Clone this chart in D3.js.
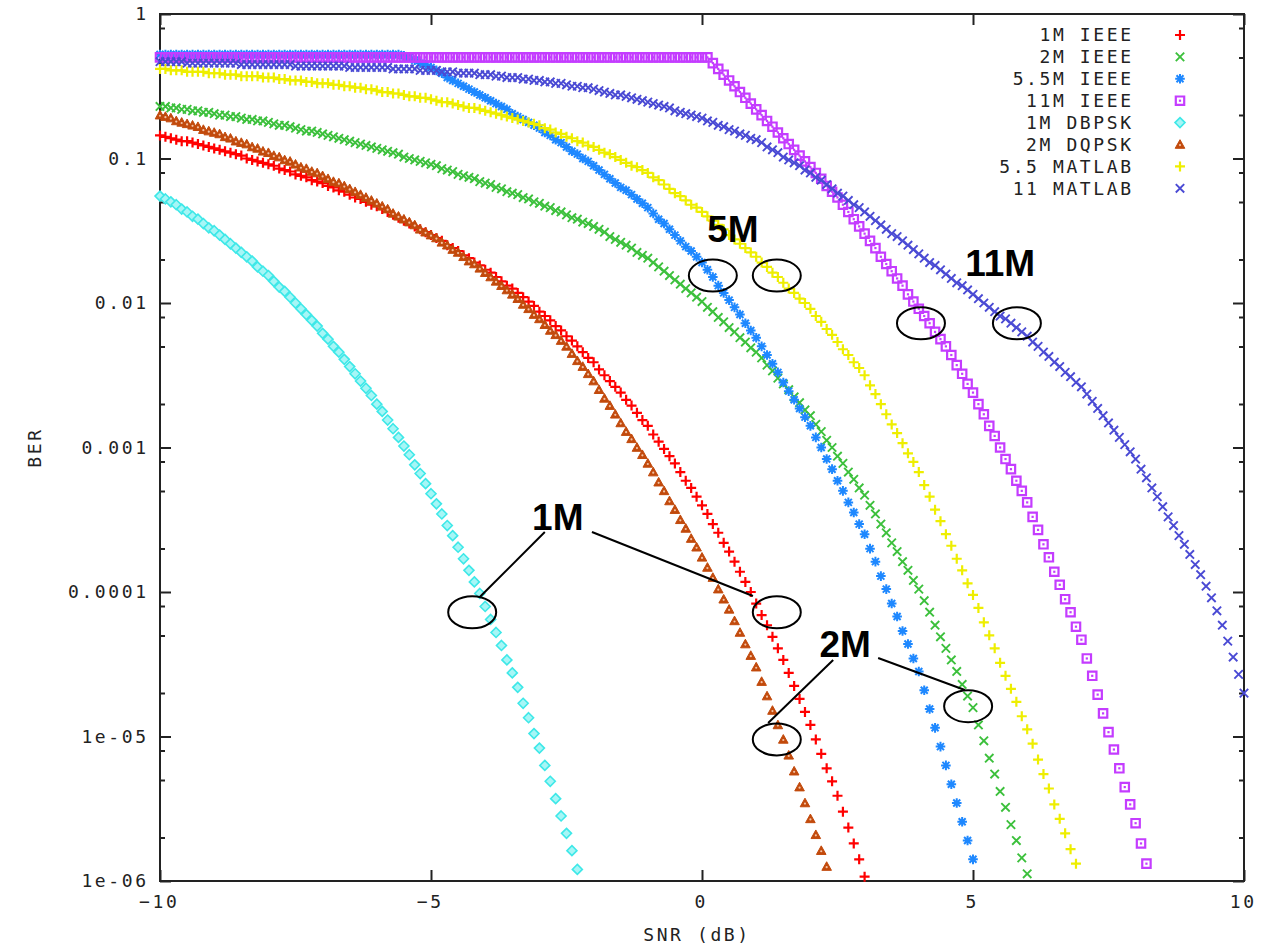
<!DOCTYPE html>
<html>
<head>
<meta charset="utf-8">
<script src="https://cdn.jsdelivr.net/npm/d3@7"></script>
<style>
  body { margin: 0; background: #fff; }
  svg { display: block; }
  .tick-label { font-family: "DejaVu Sans Mono", monospace; font-size: 18px; letter-spacing: 2.6px; fill: #222; }
  .note { font-family: "Liberation Sans", Arial, sans-serif; font-weight: bold; font-size: 37px; fill: #000; }
</style>
</head>
<body>
<svg id="chart" width="1266" height="947"></svg>
<script>
const snrStart = -10;
const snrStep = 0.1;

const logBer1mIeee = [
  -0.84,-0.85,-0.86,-0.87,-0.88,-0.88,-0.89,-0.90,-0.91,-0.92,
  -0.93,-0.94,-0.95,-0.96,-0.97,-0.98,-1.00,-1.01,-1.02,-1.03,
  -1.04,-1.05,-1.07,-1.08,-1.09,-1.11,-1.12,-1.13,-1.15,-1.16,
  -1.17,-1.19,-1.20,-1.22,-1.23,-1.25,-1.27,-1.28,-1.30,-1.32,
  -1.33,-1.35,-1.37,-1.39,-1.41,-1.43,-1.45,-1.47,-1.49,-1.51,
  -1.53,-1.55,-1.57,-1.60,-1.62,-1.64,-1.67,-1.69,-1.72,-1.74,
  -1.77,-1.79,-1.82,-1.85,-1.88,-1.90,-1.93,-1.96,-1.99,-2.02,
  -2.06,-2.09,-2.12,-2.16,-2.19,-2.23,-2.26,-2.30,-2.34,-2.38,
  -2.41,-2.46,-2.50,-2.54,-2.58,-2.62,-2.67,-2.71,-2.76,-2.81,
  -2.85,-2.91,-2.96,-3.01,-3.06,-3.11,-3.17,-3.23,-3.28,-3.34,
  -3.40,-3.46,-3.53,-3.59,-3.66,-3.72,-3.79,-3.86,-3.93,-4.00,
  -4.08,-4.16,-4.23,-4.31,-4.39,-4.47,-4.56,-4.65,-4.74,-4.83,
  -4.92,-5.02,-5.12,-5.22,-5.31,-5.41,-5.52,-5.63,-5.74,-5.85,
  -5.97
];

const logBer2mIeee = [
  -0.64,-0.64,-0.65,-0.65,-0.66,-0.66,-0.67,-0.67,-0.68,-0.68,
  -0.69,-0.70,-0.70,-0.71,-0.71,-0.72,-0.73,-0.73,-0.74,-0.74,
  -0.75,-0.76,-0.77,-0.77,-0.78,-0.79,-0.80,-0.81,-0.81,-0.82,
  -0.83,-0.84,-0.85,-0.86,-0.87,-0.88,-0.89,-0.90,-0.91,-0.92,
  -0.93,-0.94,-0.95,-0.96,-0.97,-0.99,-1.00,-1.01,-1.02,-1.03,
  -1.04,-1.05,-1.07,-1.08,-1.09,-1.11,-1.12,-1.13,-1.14,-1.16,
  -1.17,-1.18,-1.20,-1.21,-1.23,-1.24,-1.25,-1.27,-1.28,-1.30,
  -1.31,-1.33,-1.34,-1.36,-1.37,-1.39,-1.41,-1.42,-1.44,-1.45,
  -1.47,-1.49,-1.51,-1.54,-1.56,-1.58,-1.60,-1.62,-1.65,-1.67,
  -1.69,-1.72,-1.75,-1.78,-1.81,-1.84,-1.87,-1.90,-1.93,-1.96,
  -1.99,-2.03,-2.06,-2.10,-2.13,-2.17,-2.20,-2.24,-2.27,-2.31,
  -2.34,-2.38,-2.43,-2.47,-2.52,-2.56,-2.60,-2.65,-2.69,-2.74,
  -2.78,-2.84,-2.89,-2.95,-3.00,-3.06,-3.11,-3.17,-3.22,-3.28,
  -3.33,-3.40,-3.46,-3.53,-3.59,-3.66,-3.72,-3.79,-3.85,-3.92,
  -3.98,-4.06,-4.14,-4.23,-4.31,-4.39,-4.47,-4.55,-4.64,-4.72,
  -4.80,-4.92,-5.03,-5.15,-5.26,-5.38,-5.49,-5.61,-5.72,-5.84,
  -5.95
];

const logBer55mIeee = [
  -0.28,-0.28,-0.28,-0.28,-0.28,-0.28,-0.28,-0.28,-0.28,-0.28,
  -0.28,-0.28,-0.28,-0.28,-0.28,-0.28,-0.28,-0.28,-0.28,-0.28,
  -0.28,-0.28,-0.28,-0.28,-0.28,-0.28,-0.28,-0.28,-0.28,-0.28,
  -0.28,-0.28,-0.28,-0.28,-0.28,-0.28,-0.28,-0.28,-0.28,-0.28,
  -0.28,-0.28,-0.28,-0.28,-0.28,-0.29,-0.30,-0.32,-0.34,-0.35,
  -0.37,-0.39,-0.41,-0.44,-0.46,-0.48,-0.50,-0.52,-0.54,-0.56,
  -0.58,-0.60,-0.62,-0.64,-0.66,-0.69,-0.71,-0.73,-0.75,-0.77,
  -0.79,-0.82,-0.84,-0.87,-0.89,-0.92,-0.95,-0.97,-1.00,-1.02,
  -1.05,-1.08,-1.11,-1.14,-1.17,-1.20,-1.22,-1.25,-1.28,-1.31,
  -1.34,-1.38,-1.42,-1.45,-1.49,-1.53,-1.57,-1.61,-1.64,-1.68,
  -1.72,-1.77,-1.82,-1.88,-1.93,-1.98,-2.03,-2.08,-2.14,-2.19,
  -2.24,-2.30,-2.36,-2.42,-2.48,-2.55,-2.61,-2.67,-2.73,-2.79,
  -2.85,-2.93,-3.00,-3.08,-3.15,-3.23,-3.30,-3.38,-3.45,-3.53,
  -3.60,-3.70,-3.79,-3.89,-3.98,-4.08,-4.17,-4.27,-4.36,-4.46,
  -4.55,-4.68,-4.81,-4.94,-5.07,-5.20,-5.33,-5.46,-5.59,-5.72,
  -5.85
];

const logBer11mIeee = [
  -0.30,-0.30,-0.30,-0.30,-0.30,-0.30,-0.30,-0.30,-0.30,-0.30,
  -0.30,-0.30,-0.30,-0.30,-0.30,-0.30,-0.30,-0.30,-0.30,-0.30,
  -0.30,-0.30,-0.30,-0.30,-0.30,-0.30,-0.30,-0.30,-0.30,-0.30,
  -0.30,-0.30,-0.30,-0.30,-0.30,-0.30,-0.30,-0.30,-0.30,-0.30,
  -0.30,-0.30,-0.30,-0.30,-0.30,-0.30,-0.30,-0.30,-0.30,-0.30,
  -0.30,-0.30,-0.30,-0.30,-0.30,-0.30,-0.30,-0.30,-0.30,-0.30,
  -0.30,-0.30,-0.30,-0.30,-0.30,-0.30,-0.30,-0.30,-0.30,-0.30,
  -0.30,-0.30,-0.30,-0.30,-0.30,-0.30,-0.30,-0.30,-0.30,-0.30,
  -0.30,-0.30,-0.30,-0.30,-0.30,-0.30,-0.30,-0.30,-0.30,-0.30,
  -0.30,-0.30,-0.30,-0.30,-0.30,-0.30,-0.30,-0.30,-0.30,-0.30,
  -0.30,-0.30,-0.34,-0.38,-0.42,-0.46,-0.50,-0.54,-0.58,-0.62,
  -0.66,-0.70,-0.74,-0.78,-0.82,-0.86,-0.90,-0.94,-0.98,-1.02,
  -1.06,-1.10,-1.14,-1.19,-1.23,-1.27,-1.32,-1.37,-1.42,-1.47,
  -1.52,-1.57,-1.62,-1.68,-1.73,-1.78,-1.83,-1.88,-1.94,-1.99,
  -2.04,-2.09,-2.14,-2.20,-2.25,-2.30,-2.36,-2.43,-2.49,-2.56,
  -2.62,-2.70,-2.77,-2.85,-2.92,-3.00,-3.08,-3.15,-3.23,-3.30,
  -3.38,-3.48,-3.57,-3.67,-3.76,-3.86,-3.95,-4.05,-4.14,-4.24,
  -4.33,-4.46,-4.58,-4.71,-4.84,-4.97,-5.09,-5.22,-5.35,-5.47,
  -5.60,-5.74,-5.88
];

const logBer1mDbpsk = [
  -1.26,-1.28,-1.30,-1.32,-1.35,-1.37,-1.40,-1.42,-1.45,-1.48,
  -1.50,-1.53,-1.56,-1.59,-1.62,-1.65,-1.68,-1.71,-1.75,-1.78,
  -1.81,-1.85,-1.89,-1.92,-1.96,-2.00,-2.04,-2.08,-2.12,-2.16,
  -2.21,-2.25,-2.30,-2.34,-2.39,-2.44,-2.49,-2.54,-2.59,-2.64,
  -2.70,-2.75,-2.81,-2.87,-2.93,-2.99,-3.05,-3.12,-3.18,-3.25,
  -3.32,-3.39,-3.46,-3.54,-3.61,-3.69,-3.77,-3.85,-3.93,-4.01,
  -4.10,-4.19,-4.28,-4.37,-4.47,-4.56,-4.66,-4.77,-4.87,-4.98,
  -5.08,-5.20,-5.31,-5.43,-5.55,-5.67,-5.79,-5.92
];

const logBer2mDqpsk = [
  -0.70,-0.71,-0.72,-0.74,-0.75,-0.76,-0.77,-0.78,-0.80,-0.81,
  -0.82,-0.83,-0.85,-0.86,-0.88,-0.89,-0.90,-0.92,-0.93,-0.95,
  -0.96,-0.98,-0.99,-1.01,-1.02,-1.04,-1.06,-1.07,-1.09,-1.10,
  -1.12,-1.14,-1.16,-1.17,-1.19,-1.21,-1.23,-1.25,-1.27,-1.29,
  -1.31,-1.33,-1.35,-1.38,-1.40,-1.42,-1.44,-1.46,-1.49,-1.51,
  -1.53,-1.55,-1.58,-1.60,-1.63,-1.65,-1.68,-1.71,-1.73,-1.76,
  -1.79,-1.82,-1.85,-1.88,-1.91,-1.94,-1.97,-2.01,-2.04,-2.08,
  -2.11,-2.15,-2.19,-2.22,-2.26,-2.30,-2.35,-2.40,-2.44,-2.49,
  -2.54,-2.60,-2.66,-2.71,-2.77,-2.83,-2.89,-2.94,-3.00,-3.05,
  -3.11,-3.17,-3.24,-3.30,-3.37,-3.43,-3.50,-3.56,-3.63,-3.69,
  -3.76,-3.83,-3.90,-3.98,-4.05,-4.12,-4.20,-4.28,-4.36,-4.44,
  -4.52,-4.62,-4.72,-4.82,-4.92,-5.02,-5.13,-5.24,-5.35,-5.46,
  -5.57,-5.68,-5.79,-5.90
];

const logBer55Matlab = [
  -0.38,-0.38,-0.39,-0.39,-0.39,-0.40,-0.40,-0.40,-0.40,-0.41,
  -0.41,-0.41,-0.42,-0.42,-0.42,-0.43,-0.43,-0.43,-0.43,-0.44,
  -0.44,-0.44,-0.45,-0.45,-0.46,-0.46,-0.46,-0.47,-0.47,-0.48,
  -0.48,-0.48,-0.49,-0.49,-0.50,-0.50,-0.51,-0.51,-0.52,-0.52,
  -0.53,-0.54,-0.54,-0.55,-0.55,-0.56,-0.57,-0.57,-0.58,-0.58,
  -0.59,-0.60,-0.61,-0.61,-0.62,-0.63,-0.64,-0.65,-0.65,-0.66,
  -0.67,-0.68,-0.69,-0.70,-0.71,-0.72,-0.73,-0.74,-0.75,-0.76,
  -0.77,-0.79,-0.80,-0.82,-0.83,-0.85,-0.86,-0.88,-0.89,-0.91,
  -0.92,-0.94,-0.96,-0.97,-0.99,-1.01,-1.03,-1.05,-1.06,-1.08,
  -1.10,-1.13,-1.15,-1.18,-1.21,-1.24,-1.26,-1.29,-1.32,-1.34,
  -1.37,-1.40,-1.43,-1.46,-1.49,-1.53,-1.56,-1.59,-1.62,-1.65,
  -1.68,-1.72,-1.75,-1.79,-1.82,-1.86,-1.90,-1.93,-1.97,-2.00,
  -2.04,-2.09,-2.13,-2.18,-2.22,-2.27,-2.32,-2.36,-2.41,-2.45,
  -2.50,-2.57,-2.63,-2.70,-2.77,-2.84,-2.90,-2.97,-3.04,-3.10,
  -3.17,-3.26,-3.34,-3.43,-3.51,-3.60,-3.68,-3.77,-3.85,-3.94,
  -4.02,-4.11,-4.21,-4.30,-4.39,-4.49,-4.58,-4.67,-4.76,-4.86,
  -4.95,-5.05,-5.16,-5.26,-5.36,-5.47,-5.57,-5.67,-5.78,-5.88
];

const logBer11Matlab = [
  -0.33,-0.33,-0.33,-0.33,-0.33,-0.34,-0.34,-0.34,-0.34,-0.34,
  -0.34,-0.34,-0.34,-0.34,-0.34,-0.35,-0.35,-0.35,-0.35,-0.35,
  -0.35,-0.35,-0.35,-0.35,-0.35,-0.36,-0.36,-0.36,-0.36,-0.36,
  -0.36,-0.36,-0.36,-0.36,-0.36,-0.37,-0.37,-0.37,-0.37,-0.37,
  -0.37,-0.37,-0.37,-0.38,-0.38,-0.38,-0.38,-0.38,-0.39,-0.39,
  -0.39,-0.39,-0.40,-0.40,-0.40,-0.41,-0.41,-0.41,-0.41,-0.42,
  -0.42,-0.42,-0.43,-0.43,-0.44,-0.44,-0.44,-0.45,-0.45,-0.46,
  -0.46,-0.47,-0.47,-0.48,-0.48,-0.49,-0.50,-0.50,-0.51,-0.51,
  -0.52,-0.53,-0.54,-0.55,-0.56,-0.56,-0.57,-0.58,-0.59,-0.60,
  -0.61,-0.62,-0.63,-0.64,-0.65,-0.67,-0.68,-0.69,-0.70,-0.71,
  -0.72,-0.74,-0.75,-0.77,-0.78,-0.80,-0.81,-0.83,-0.84,-0.86,
  -0.87,-0.89,-0.92,-0.94,-0.96,-0.99,-1.01,-1.03,-1.05,-1.08,
  -1.10,-1.13,-1.15,-1.18,-1.21,-1.24,-1.26,-1.29,-1.32,-1.34,
  -1.37,-1.40,-1.43,-1.46,-1.49,-1.52,-1.54,-1.57,-1.60,-1.63,
  -1.66,-1.69,-1.72,-1.74,-1.77,-1.80,-1.83,-1.86,-1.88,-1.91,
  -1.94,-1.97,-2.00,-2.03,-2.06,-2.09,-2.11,-2.14,-2.17,-2.20,
  -2.23,-2.27,-2.30,-2.34,-2.37,-2.41,-2.44,-2.48,-2.51,-2.55,
  -2.58,-2.63,-2.68,-2.73,-2.78,-2.83,-2.88,-2.93,-2.98,-3.03,
  -3.08,-3.15,-3.21,-3.28,-3.34,-3.41,-3.48,-3.54,-3.61,-3.67,
  -3.74,-3.81,-3.88,-3.96,-4.04,-4.13,-4.23,-4.34,-4.45,-4.57,
  -4.70
];

const seriesNames = ["1M IEEE", "2M IEEE", "5.5M IEEE", "11M IEEE", "1M DBPSK", "2M DQPSK", "5.5 MATLAB", "11 MATLAB"];
const seriesValues = [logBer1mIeee, logBer2mIeee, logBer55mIeee, logBer11mIeee, logBer1mDbpsk, logBer2mDqpsk, logBer55Matlab, logBer11Matlab];

const xTicks = [-10, -5, 0, 5, 10];
const yTicks = [1e-6, 1e-5, 1e-4, 1e-3, 1e-2, 1e-1, 1];
const yTickLabels = ["1e-06", "1e-05", "0.0001", "0.001", "0.01", "0.1", "1"];
const yMinorTicks = [2e-6, 5e-6, 8e-6, 2e-5, 5e-5, 8e-5, 2e-4, 5e-4, 8e-4, 2e-3, 5e-3, 8e-3, 2e-2, 5e-2, 8e-2, 2e-1, 5e-1, 8e-1];

// callouts, in data coordinates (SNR dB, log10 BER)
const noteText = ["5M", "11M", "1M", "2M"];
const noteSnr = [0.57, 5.50, -2.66, 2.64];
const noteLogBer = [-1.58, -1.81, -3.57, -4.45];
const ringSnr = [0.20, 1.38, 4.04, 5.81, -4.24, 1.38, 1.38, 4.91];
const ringLogBer = [-1.81, -1.81, -2.14, -2.14, -4.14, -4.14, -5.02, -4.79];
const leaderFrom = [[-2.90, -3.585], [-2.03, -3.585], [2.42, -4.47], [3.25, -4.457]];
const leaderTo = [[-4.10, -4.035], [0.94, -4.028], [1.22, -4.907], [4.85, -4.678]];

// look of each series, same order as seriesNames
const seriesStyle = [
  { marker: "plus",     color: "#ff0000" },
  { marker: "cross",    color: "#3cc03c" },
  { marker: "star",     color: "#1e88ff" },
  { marker: "square",   color: "#c43cff" },
  { marker: "diamond",  color: "#3ee8e8" },
  { marker: "triangle", color: "#c24a0c" },
  { marker: "plus",     color: "#eeee00" },
  { marker: "cross",    color: "#4a4ad4" }
];

const svg = d3.select("#chart");
const plot = { left: 160, right: 1244, top: 14, bottom: 881 };

const x = d3.scaleLinear().domain([-10, 10]).range([plot.left, plot.right]);
const y = d3.scaleLog().domain([1e-6, 1]).range([plot.bottom, plot.top]);
const ls = 2.6; // letter spacing used on tick text

svg.append("rect").attr("width", 1266).attr("height", 947).attr("fill", "#fff");

// axes, gnuplot style: ticks drawn inward on all four sides
function styleAxis(g) {
  g.select(".domain").remove();
  g.selectAll(".tick line").attr("stroke", "#222").attr("stroke-width", 2);
}

svg.append("g")
  .attr("transform", `translate(0,${plot.bottom})`)
  .call(d3.axisBottom(x).tickValues(xTicks).tickSize(-11).tickPadding(14).tickFormat(d3.format("d")))
  .call(styleAxis)
  .call(g => g.selectAll("text").attr("class", "tick-label").attr("dx", -ls / 2).attr("font-size", null).attr("font-family", null));

svg.append("g")
  .attr("transform", `translate(0,${plot.top})`)
  .call(d3.axisTop(x).tickValues(xTicks).tickSize(-11).tickFormat(""))
  .call(styleAxis);

svg.append("g")
  .attr("transform", `translate(${plot.left},0)`)
  .call(d3.axisLeft(y).tickValues(yTicks).tickSize(-11).tickPadding(14).tickFormat((d, i) => yTickLabels[i]))
  .call(styleAxis)
  .call(g => g.selectAll("text").attr("class", "tick-label").attr("dx", ls).attr("font-size", null).attr("font-family", null));

svg.append("g")
  .attr("transform", `translate(${plot.left},0)`)
  .call(d3.axisLeft(y).tickValues(yMinorTicks).tickSize(-5).tickFormat(""))
  .call(styleAxis);

svg.append("g")
  .attr("transform", `translate(${plot.right},0)`)
  .call(d3.axisRight(y).tickValues(yTicks).tickSize(-11).tickFormat(""))
  .call(styleAxis);

svg.append("g")
  .attr("transform", `translate(${plot.right},0)`)
  .call(d3.axisRight(y).tickValues(yMinorTicks).tickSize(-5).tickFormat(""))
  .call(styleAxis);

svg.append("rect")
  .attr("x", plot.left).attr("y", plot.top)
  .attr("width", plot.right - plot.left).attr("height", plot.bottom - plot.top)
  .attr("fill", "none").attr("stroke", "#222").attr("stroke-width", 2);

svg.append("text").attr("class", "tick-label")
  .attr("x", (plot.left + plot.right) / 2 - 5).attr("y", 941)
  .attr("text-anchor", "middle").text("SNR (dB)");

svg.append("text").attr("class", "tick-label")
  .attr("transform", `translate(41,${(plot.top + plot.bottom) / 2}) rotate(-90)`)
  .attr("text-anchor", "middle").text("BER");

// point markers
function drawMarker(sel, kind, color) {
  if (kind === "plus") {
    sel.append("path").attr("d", "M-5,0H5M0,-5V5").attr("stroke", color).attr("stroke-width", 2.2);
  } else if (kind === "cross") {
    sel.append("path").attr("d", "M-4.2,-4.2L4.2,4.2M-4.2,4.2L4.2,-4.2").attr("stroke", color).attr("stroke-width", 1.9);
  } else if (kind === "star") {
    sel.append("path").attr("d", "M-4.8,0H4.8M0,-4.8V4.8M-3.5,-3.5L3.5,3.5M-3.5,3.5L3.5,-3.5").attr("stroke", color).attr("stroke-width", 2);
  } else if (kind === "square") {
    sel.append("path").attr("d", "M-4.2,-4.2H4.2V4.2H-4.2Z").attr("fill", "none").attr("stroke", color).attr("stroke-width", 2.2);
    sel.append("rect").attr("x", -1.1).attr("y", -1.1).attr("width", 2.2).attr("height", 2.2).attr("fill", color);
  } else if (kind === "diamond") {
    sel.append("path").attr("d", "M0,-5L5,0L0,5L-5,0Z").attr("fill", "#a6f6f6").attr("stroke", color).attr("stroke-width", 1.6);
  } else if (kind === "triangle") {
    sel.append("path").attr("d", "M0,-4.8L4.8,3.8H-4.8Z").attr("fill", color).attr("stroke", color).attr("stroke-width", 1);
    sel.append("circle").attr("cy", 0.6).attr("r", 1.1).attr("fill", "#f3c2a4");
  }
}

seriesValues.forEach((vals, si) => {
  const pts = vals.map((v, i) => ({ snr: snrStart + i * snrStep, ber: Math.pow(10, v) }));
  const g = svg.append("g").attr("class", "series");
  g.selectAll("g")
    .data(pts)
    .join("g")
    .attr("transform", d => `translate(${x(d.snr)},${y(d.ber)})`)
    .each(function() { drawMarker(d3.select(this), seriesStyle[si].marker, seriesStyle[si].color); });
});

// legend, top right inside the frame
const legend = svg.append("g");
seriesNames.forEach((name, i) => {
  const ry = 35 + i * 21.9;
  legend.append("text").attr("class", "tick-label")
    .attr("x", 1131 + ls).attr("y", ry).attr("dy", "0.35em")
    .attr("text-anchor", "end").text(name);
  const m = legend.append("g").attr("transform", `translate(1180,${ry})`);
  drawMarker(m, seriesStyle[i].marker, seriesStyle[i].color);
});

// callouts
const notes = svg.append("g");
ringSnr.forEach((s, i) => {
  notes.append("ellipse")
    .attr("cx", x(s)).attr("cy", y(Math.pow(10, ringLogBer[i])))
    .attr("rx", 24).attr("ry", 16)
    .attr("fill", "none").attr("stroke", "#000").attr("stroke-width", 2);
});
leaderFrom.forEach((p, i) => {
  const q = leaderTo[i];
  notes.append("line")
    .attr("x1", x(p[0])).attr("y1", y(Math.pow(10, p[1])))
    .attr("x2", x(q[0])).attr("y2", y(Math.pow(10, q[1])))
    .attr("stroke", "#000").attr("stroke-width", 2);
});
noteText.forEach((t, i) => {
  notes.append("text").attr("class", "note")
    .attr("x", x(noteSnr[i])).attr("y", y(Math.pow(10, noteLogBer[i])))
    .attr("text-anchor", "middle").text(t);
});
</script>
</body>
</html>
